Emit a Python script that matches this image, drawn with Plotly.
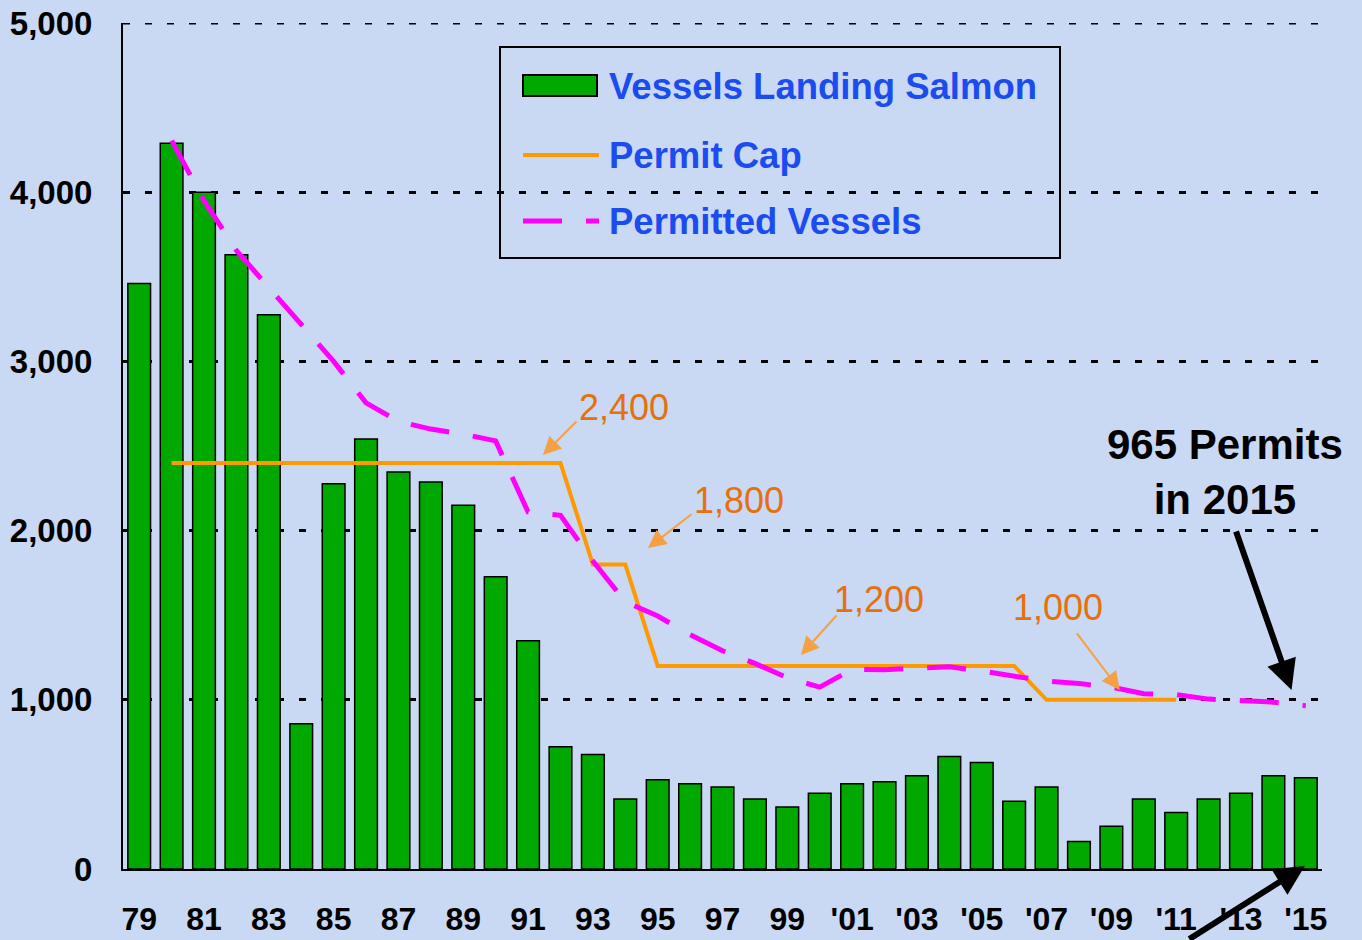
import plotly.graph_objects as go

# ---- data -------------------------------------------------------------
years = list(range(1979, 2016))
vessels_landing = [
    3460, 4290, 4000, 3630, 3275, 858, 2277, 2541, 2346, 2287,
    2150, 1727, 1349, 722, 677, 413, 527, 504, 484, 413,
    366, 448, 504, 516, 551, 665, 629, 401, 484, 162,
    252, 413, 334, 413, 448, 551, 539,
]

cap_years = list(range(1980, 2012))
permit_cap = [
    2400, 2400, 2400, 2400, 2400, 2400, 2400, 2400, 2400, 2400,
    2400, 2400, 2400, 1800, 1800, 1200, 1200, 1200, 1200, 1200,
    1200, 1200, 1200, 1200, 1200, 1200, 1200, 1000, 1000, 1000,
    1000, 1000,
]

permit_years = list(range(1980, 2016))
permitted_vessels = [
    4305, 3950, 3655, 3440, 3215, 3000, 2755, 2645, 2600, 2570,
    2530, 2110, 2090, 1820, 1580, 1495, 1385, 1290, 1215, 1130,
    1075, 1180, 1178, 1190, 1195, 1170, 1142, 1110, 1096, 1075,
    1036, 1030, 1004, 995, 986, 965,
]

tick_years = list(range(1979, 2016, 2))
tick_labels = ["79", "81", "83", "85", "87", "89", "91", "93", "95", "97",
               "99", "'01", "'03", "'05", "'07", "'09", "'11", "'13", "'15"]
y_ticks = [0, 1000, 2000, 3000, 4000, 5000]
y_max = 5000

# ---- styling ------------------------------------------------------------
W, H = 1362, 940
ML, MR, MT, MB = 123, 40, 23, 71
BG = "#C9D8F3"
GREEN = "#00A800"
ORANGE = "#FF9900"
MAGENTA = "#FF00FF"
LABEL_ORANGE = "#E4700E"
ARROW_ORANGE = "#F5A042"
LEGEND_BLUE = "#1A4CF0"
FONT = "Liberation Sans, Arial, sans-serif"
GRID_DASH = "7px,15px"


def px_x(p):
    return (p - ML) / (W - ML - MR)


def px_y(p):
    return (H - MB - p) / (H - MT - MB)


fig = go.Figure()

fig.add_trace(go.Bar(
    x=years, y=vessels_landing, width=0.7,
    marker=dict(color=GREEN, line=dict(color="black", width=1.5)),
    showlegend=False, name="Vessels Landing Salmon",
))
fig.add_trace(go.Scatter(
    x=cap_years, y=permit_cap, mode="lines",
    line=dict(color=ORANGE, width=4),
    showlegend=False, name="Permit Cap",
))
fig.add_trace(go.Scatter(
    x=permit_years, y=permitted_vessels, mode="lines",
    line=dict(color=MAGENTA, width=5, dash="39px,24px"),
    showlegend=False, name="Permitted Vessels",
))

shapes = [
    # top gridline sits on the plot edge, so it is drawn as a shape
    dict(type="line", xref="paper", yref="y", x0=0, x1=1,
         y0=y_max, y1=y_max, layer="below",
         line=dict(color="black", width=3, dash=GRID_DASH)),
    # legend frame and swatches
    dict(type="rect", xref="paper", yref="paper",
         x0=px_x(500), x1=px_x(1060), y0=px_y(258), y1=px_y(47),
         line=dict(color="black", width=2), fillcolor="rgba(0,0,0,0)"),
    dict(type="rect", xref="paper", yref="paper",
         x0=px_x(523), x1=px_x(597), y0=px_y(96), y1=px_y(75),
         line=dict(color="black", width=2), fillcolor=GREEN),
    dict(type="line", xref="paper", yref="paper",
         x0=px_x(523), x1=px_x(599), y0=px_y(155), y1=px_y(155),
         line=dict(color=ORANGE, width=4)),
    dict(type="line", xref="paper", yref="paper",
         x0=px_x(523), x1=px_x(599), y0=px_y(221), y1=px_y(221),
         line=dict(color=MAGENTA, width=5, dash="39px,24px")),
]

annotations = []
for label, yy in [("Vessels Landing Salmon", 86),
                  ("Permit Cap", 155),
                  ("Permitted Vessels", 222)]:
    annotations.append(dict(
        xref="paper", yref="paper", x=px_x(607), y=px_y(yy),
        xanchor="left", yanchor="middle", text=label, showarrow=False,
        font=dict(family=FONT, size=36.5, color=LEGEND_BLUE, weight="bold"),
    ))

# ---- permit cap callouts ----------------------------------------------
callouts = [
    # text, text x, text y, arrow tip (x, y), arrow tail (x, y)
    ("2,400", 1993.96, 2730, (1991.46, 2447), (1992.54, 2654)),
    ("1,800", 1997.51, 2175, (1994.70, 1897), (1996.09, 2104)),
    ("1,200", 2001.83, 1590, (1999.42, 1265), (2000.56, 1507)),
    ("1,000", 2007.35, 1543, (2009.26, 1058), (2007.90, 1401)),
]
for text, tx, ty, tip, tail in callouts:
    annotations.append(dict(
        x=tx, y=ty, xref="x", yref="y", text=text, showarrow=False,
        xanchor="center", yanchor="middle",
        font=dict(family=FONT, size=36, color=LABEL_ORANGE),
    ))
    annotations.append(dict(
        x=tip[0], y=tip[1], xref="x", yref="y",
        ax=tail[0], ay=tail[1], axref="x", ayref="y",
        text="", showarrow=True, arrowhead=2, arrowsize=1.8,
        arrowwidth=2, arrowcolor=ARROW_ORANGE,
    ))

# ---- 2015 permits note -------------------------------------------------
annotations.append(dict(
    x=2012.5, y=2346, xref="x", yref="y",
    text="965 Permits<br>in 2015", showarrow=False, align="center",
    xanchor="center", yanchor="middle",
    font=dict(family=FONT, size=42, color="black", weight="bold"),
))
annotations.append(dict(
    x=2014.56, y=1058, xref="x", yref="y", ax=-56, ay=-160,
    text="", showarrow=True, arrowhead=2, arrowsize=1,
    arrowwidth=6, arrowcolor="black",
))
annotations.append(dict(
    x=2014.97, y=18, xref="x", yref="y", ax=-117, ay=94,
    text="", showarrow=True, arrowhead=2, arrowsize=1,
    arrowwidth=6, arrowcolor="black",
))

fig.update_layout(
    width=W, height=H, autosize=False,
    margin=dict(l=ML, r=MR, t=MT, b=MB, pad=0, autoexpand=False),
    paper_bgcolor=BG, plot_bgcolor=BG,
    bargap=0.3,
    shapes=shapes, annotations=annotations,
    font=dict(family=FONT),
    xaxis=dict(
        range=[1978.5, 2015.5], tickmode="array",
        tickvals=tick_years, ticktext=tick_labels,
        tickfont=dict(family=FONT, size=32, color="black", weight="bold"),
        showline=True, linecolor="black", linewidth=2,
        showgrid=False, zeroline=False, ticks="", ticklabelstandoff=21,
        automargin=False,
    ),
    yaxis=dict(
        range=[0, y_max], tickmode="array", tickvals=y_ticks,
        tickformat=",",
        tickfont=dict(family=FONT, size=33, color="black", weight="bold"),
        showline=True, linecolor="black", linewidth=2,
        showgrid=True, gridcolor="black", gridwidth=3, griddash=GRID_DASH,
        zeroline=False, ticks="", ticklabelstandoff=22,
        automargin=False,
    ),
)

fig.write_html("out.html")
